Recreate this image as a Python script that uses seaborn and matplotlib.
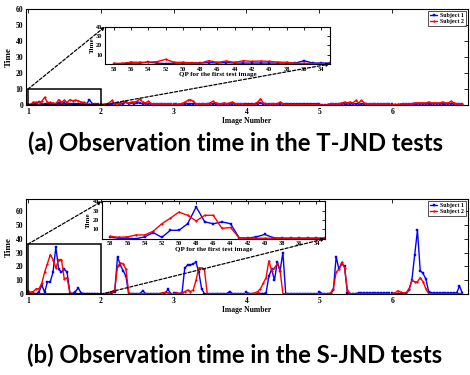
import numpy as np
import pandas as pd
import matplotlib
matplotlib.use("Agg")
import matplotlib.pyplot as plt
import seaborn as sns
from matplotlib.patches import Rectangle, ConnectionPatch

# ---------------- data ----------------
images = [1, 2, 3, 4, 5, 6]
qp = list(range(58, 32, -1))          # QP values tested per image (26)
subjects = ["Subject 1", "Subject 2"]
colors = ["#0000ff", "#ff0000"]
qp_ticks = [58, 56, 54, 52, 50, 48, 46, 44, 42, 40, 38, 36, 34]
captions = ["(a) Observation time in the T-JND tests",
            "(b) Observation time in the S-JND tests"]

# T-JND, per image
tjnd_s1 = [
    [0.3, 0.3, 1, 1, 2, 1, 0.5, 1, 1, 1, 1, 1.5, 1, 1.5, 1, 1, 1, 1, 1, 1, 1, 1, 3.5, 1, 1, 1],
    [1, 0.3, 0.3, 0, 1, 1, 1.5, 1, 1, 2, 1, 1.5, 1, 1.5, 1.5, 1, 1, 1, 1, 1, 1, 1, 1, 1, 1, 1],
    [1, 0.5, 0, 0.5, 1, 1, 1, 1, 1, 1, 1, 1, 1, 1, 1, 1, 1, 1, 1, 1, 1, 1, 1, 1, 1, 1],
    [1, 1, 1, 1, 1, 1.5, 1, 1, 1, 1, 1, 1, 1, 1, 1, 1, 1, 1, 1, 1, 1, 1, 1, 1, 1, 1],
    [0.5, 0, 0, 0, 0.5, 1, 1, 1, 1, 1, 1, 1, 1, 1, 1, 1, 1, 1, 1, 1, 1, 1, 1, 1, 1, 1],
    [0.5, 0, 0, 0, 0.5, 0.5, 1, 1, 1, 1, 1, 1, 1, 1, 1, 1, 1, 1, 1, 1, 1, 1, 1, 1, 1, 1],
]
tjnd_s2 = [
    [0.7, 0.7, 2, 1.8, 1.8, 2.5, 5, 1.8, 1.8, 1.4, 1, 3.5, 1.8, 3.2, 1.8, 3.5, 2.8, 3.2, 2.8, 2, 1.8, 0.7, 0.7, 0.5, 0.5, 0.5],
    [0.5, 0.5, 1, 1.5, 3, 1, 1, 1.5, 2.5, 2, 1.5, 2, 2, 2.5, 4, 2, 1.5, 2.5, 1, 1, 1, 1, 1, 1, 1, 1],
    [1, 0.5, 1, 1, 2, 3, 3.5, 2.5, 1, 1, 1, 1, 1, 1.5, 2.5, 1.5, 1, 1, 1.5, 1, 1.5, 2, 1, 1, 1, 1],
    [0.5, 0.5, 0.5, 1, 2, 4, 1.5, 1, 1, 1, 1, 1, 2, 1, 0.5, 0.5, 0.5, 0.5, 0.5, 0.5, 0.5, 0.5, 0.5, 0.5, 0.5, 0.5],
    [0.5, 0, 0, 0.5, 1, 1, 1, 1, 1.5, 2, 1.5, 2, 1.5, 3, 1.5, 3, 1.5, 1, 1, 1, 1, 1, 1, 1, 1, 1],
    [0.5, 0.5, 0.5, 1, 1, 1, 1, 1, 1.5, 1.5, 1.5, 1.5, 1.5, 2, 1.5, 1.5, 1.5, 1.5, 2, 1.5, 1.5, 2.5, 1.5, 1, 1, 1],
]
# S-JND, per image
sjnd_s1 = [
    [1.5, 0.5, 0.5, 0, 2, 6.5, 1.5, 9, 9, 16, 34, 18, 16, 18, 16, 1, 0.5, 2, 4.5, 1, 0.5, 0.5, 0.5, 0.5, 0.5, 0.5],
    [0, 0, 0.5, 1, 1, 2, 27, 21, 17, 13, 0, 0.5, 0.5, 0.5, 0.5, 2.5, 0.5, 0.5, 0.5, 0.5, 0.5, 0.5, 0.5, 0.5, 3.5, 0.5],
    [1, 1, 0.5, 1, 19, 21, 21, 22, 23, 16, 4, 0.5, 0.5, 0.5, 0.5, 0.5, 0.5, 0.5, 0.5, 0.5, 2, 0.5, 0.5, 0.5, 0.5, 0.5],
    [1.5, 0.5, 0.5, 0.5, 0.5, 0.5, 0.5, 1, 13, 18, 10, 23.5, 17, 30, 0.5, 0.5, 0.5, 0.5, 0.5, 0.5, 0.5, 0.5, 0.5, 0.5, 0.5, 0.5],
    [2, 0.5, 0.5, 0.5, 0.5, 3, 27, 18, 22, 20, 1, 0.5, 0.5, 0.5, 1, 1, 1, 1, 1, 1, 1, 1, 1, 1, 1, 1],
    [1, 0.5, 0.5, 0.5, 0.5, 1, 3, 10, 28, 46, 17, 15, 11, 2, 1, 1, 1, 1, 1, 1, 1, 1, 1, 1, 6, 1],
]
sjnd_s2 = [
    [2.5, 1.5, 2, 4, 4, 8, 16, 22, 28.5, 25, 19, 25, 25, 11, 12, 1, 0.5, 0.5, 0.5, 0.5, 0.5, 0.5, 0.5, 0.5, 0.5, 0.5],
    [0, 0, 0.5, 1, 2, 3, 20, 22.5, 22, 18, 1, 0.3, 0.3, 0.3, 0.3, 0.3, 0.3, 0.3, 0.3, 0.3, 0.3, 0.5, 1, 1.5, 1, 0.5],
    [0.5, 1, 0.5, 1, 2, 3, 2, 3, 10, 19, 19, 18, 0.5, 0.3, 0.3, 0.3, 0.3, 0.3, 0.3, 0.3, 0.3, 0.3, 0.3, 0.3, 0.3, 0.3],
    [0.5, 0.5, 0.5, 1, 2, 4, 8, 12, 24, 17, 19, 22, 17, 0.5, 0.3, 0.3, 0.3, 0.3, 0.3, 0.3, 0.3, 0.3, 0.3, 0.3, 0.3, 0.3],
    [0.5, 0.3, 0.3, 0.3, 1, 4, 16, 18, 23, 19, 3, 0.5, 0.3, 0.3, 0.3, 0.3, 0.3, 0.3, 0.3, 0.3, 0.3, 0.3, 0.3, 0.3, 0.3, 0.3],
    [0.5, 1, 2.5, 1.5, 1, 1, 4, 10, 9, 9, 12, 9, 4, 0.5, 0.3, 0.3, 0.3, 0.3, 0.3, 0.3, 0.3, 0.3, 0.3, 0.5, 0.5, 0.5],
]

# ---------------- helpers ----------------
def build_frame(s1, s2):
    rows = []
    n = len(qp)
    for subj, series in zip(subjects, [s1, s2]):
        for img, vals in zip(images, series):
            for k, (q, v) in enumerate(zip(qp, vals)):
                rows.append({"pos": img + k / n, "qp": q, "image": img,
                             "Time": v, "subject": subj})
    return pd.DataFrame(rows)

sns.set_theme(style="white")
serif = ["Liberation Serif", "DejaVu Serif"]
plt.rcParams["font.family"] = serif
plt.rcParams["font.weight"] = "bold"
plt.rcParams["axes.labelweight"] = "bold"
plt.rcParams["text.color"] = "black"
plt.rcParams["axes.labelcolor"] = "black"
plt.rcParams["xtick.color"] = "black"
plt.rcParams["ytick.color"] = "black"

fig = plt.figure(figsize=(4.7, 3.75), dpi=100)
fig.patch.set_facecolor("white")

main_rects = [[26 / 470, 1 - 105.3 / 375, 442 / 470, 96.3 / 375],
              [26 / 470, 1 - 294.3 / 375, 442 / 470, 95.3 / 375]]
inset_rects = [[105 / 470, 1 - 64 / 375, 225 / 470, 37.3 / 375],
               [101.7 / 470, 1 - 238.7 / 375, 223.3 / 470, 37.4 / 375]]
ymaxes = [60, 68.5]
box_tops = [10, 36]
cap_y = [1 - 143 / 375, 1 - 355 / 375]

def style_axis(ax, lsize, length):
    for s in ax.spines.values():
        s.set_color("black")
        s.set_linewidth(0.8)
    ax.tick_params(direction="in", top=True, right=True, length=length,
                   width=0.6, labelsize=lsize, colors="black", pad=2)
    for lab in ax.get_xticklabels() + ax.get_yticklabels():
        lab.set_fontweight("bold")
        lab.set_color("black")

datasets = [(tjnd_s1, tjnd_s2), (sjnd_s1, sjnd_s2)]
for p, (s1, s2) in enumerate(datasets):
    df = build_frame(s1, s2)
    ax = fig.add_axes(main_rects[p])
    markers = {"Subject 1": "s", "Subject 2": "."}
    sizes = {"Subject 1": 2.0, "Subject 2": 2.5}
    for subj, col in zip(subjects, colors):
        sub = df[df.subject == subj]
        for img in images:
            part = sub[sub.image == img]
            sns.lineplot(data=part, x="pos", y="Time", ax=ax, color=col,
                         lw=1.0, marker=markers[subj], markersize=sizes[subj],
                         markeredgewidth=0.3, markeredgecolor=col,
                         label=subj if img == 1 else None, legend=False,
                         estimator=None, sort=False)
    ax.set_xlim(0.975, 7.04)
    ax.set_ylim(0, ymaxes[p])
    ax.set_xticks(images)
    ax.set_yticks([0, 10, 20, 30, 40, 50, 60])
    ax.set_xlabel("Image Number", fontsize=5.5, labelpad=1, color="black")
    ax.set_ylabel("Time", fontsize=6.5, labelpad=2, color="black")
    style_axis(ax, 5.5, 3)
    leg = ax.legend(loc="upper right", fontsize=4.3, frameon=True,
                    fancybox=False, edgecolor="black", borderpad=0.3,
                    handlelength=1.2, handletextpad=0.5, labelspacing=0.15,
                    borderaxespad=0.3)
    leg.get_frame().set_linewidth(0.6)
    for t in leg.get_texts():
        t.set_fontweight("bold")
        t.set_color("black")

    # zoom rectangle on first image
    ax.add_patch(Rectangle((1, 0), 1, box_tops[p], fill=False,
                           edgecolor="black", lw=1.1, zorder=5))

    # inset with first image vs QP
    ins = fig.add_axes(inset_rects[p])
    ins.set_facecolor("white")
    first = df[df.image == 1]
    for subj, col in zip(subjects, colors):
        part = first[first.subject == subj]
        sns.lineplot(data=part, x="qp", y="Time", ax=ins, color=col, lw=1.0,
                     marker=markers[subj], markersize=sizes[subj],
                     markeredgewidth=0.3, markeredgecolor=col,
                     legend=False, estimator=None, sort=False)
    ins.set_xlim(59, 33)
    ins.set_ylim(0, 40)
    ins.set_xticks(qp_ticks)
    ins.set_yticks([10, 20, 30, 40])
    ins.set_xlabel("QP for the first test image", fontsize=5, labelpad=0.5,
                   color="black")
    ins.set_ylabel("Time", fontsize=5, labelpad=1, color="black")
    style_axis(ins, 4.5, 2)

    # dashed connectors
    c1 = ConnectionPatch(xyA=(1, box_tops[p]), coordsA=ax.transData,
                         xyB=(59, 40), coordsB=ins.transData,
                         linestyle=(0, (2.5, 1.5)), lw=0.9, color="black",
                         arrowstyle="-|>", mutation_scale=5, zorder=10)
    c2 = ConnectionPatch(xyA=(2, 0), coordsA=ax.transData,
                         xyB=(33, 0), coordsB=ins.transData,
                         linestyle=(0, (2.5, 1.5)), lw=0.9, color="black",
                         arrowstyle="-|>", mutation_scale=5, zorder=10)
    fig.add_artist(c1)
    fig.add_artist(c2)

    fig.text(0.5, cap_y[p], captions[p], ha="center", va="center",
             fontsize=17.2, fontweight="bold", color="black",
             family=["Lato", "DejaVu Sans"])

fig.savefig("out.png", dpi=100, facecolor="white")
